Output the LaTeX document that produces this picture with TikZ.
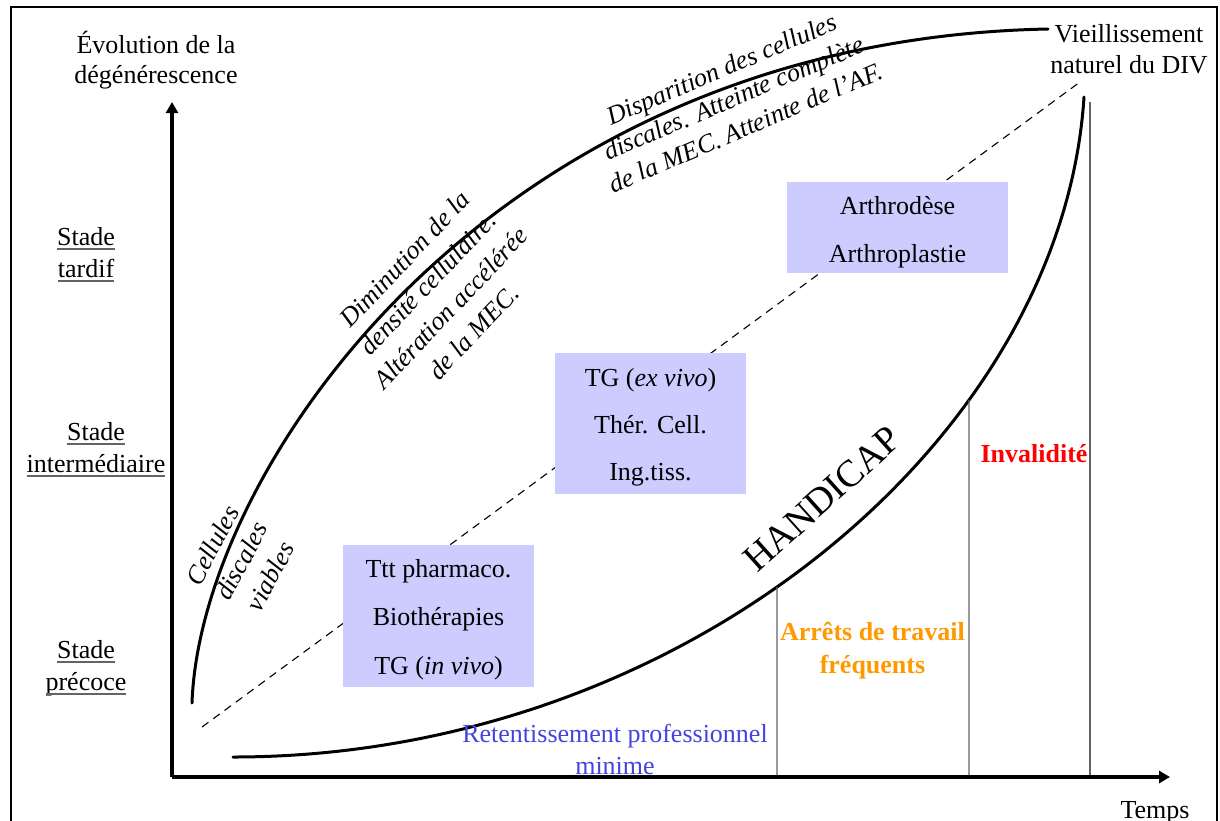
\documentclass[tikz,border=0pt]{standalone}
\usepackage{fontspec}
\setmainfont{Liberation Serif}
\usetikzlibrary{arrows.meta,intersections}
\definecolor{boxfill}{RGB}{204,204,255}
\definecolor{txtblue}{RGB}{68,68,221}
\definecolor{txtorange}{RGB}{255,153,0}
\definecolor{txtred}{RGB}{255,0,0}
\definecolor{thingray}{RGB}{100,100,100}
\begin{document}
\begin{tikzpicture}[x=1pt,y=-1pt,
  every node/.style={inner sep=0pt, outer sep=0pt, font=\fontsize{26}{32}\selectfont},
  lbl/.style={anchor=base},
  itl/.style={anchor=base, font=\fontsize{26}{32}\selectfont\itshape},
  tbox/.style={fill=boxfill, draw=none},
  frameline/.style={line width=2.5pt},
  axisline/.style={line width=3.5pt, -{Triangle[length=11pt,width=12pt]}},
  curveline/.style={line width=3pt, line cap=round},
  vline/.style={line width=1.3pt, draw=thingray},
  dashline/.style={line width=1.1pt, dash pattern=on 8pt off 6pt},
  ulline/.style={line width=1.1pt, draw=thingray}
]
\useasboundingbox (0,0) rectangle (1220,820);
% frame
\draw[frameline] (11,830) -- (11,7) -- (1217,7) -- (1217,830);

% dashed diagonal
\coordinate (d0) at (202,727);
\coordinate (d1) at (1080,82);
\draw[dashline] (d0) -- (d1);

% boxes
\node[tbox, minimum width=191pt, minimum height=142pt] (b1) at (438.5,616) {};
\node[tbox, minimum width=191pt, minimum height=141pt] (b2) at (650.5,423.5) {};
\node[tbox, minimum width=221pt, minimum height=91pt] (b3) at (897.5,227.5) {};

% curves
\coordinate (u0) at (192,703);
\coordinate (u1) at (1048,29);
\draw[curveline] (u0) .. controls (200,470) and (490,40) .. (u1);
\coordinate (l0) at (233,757);
\coordinate (l1) at (1084,97);
\draw[curveline, name path=lower] (l0) .. controls (683,757) and (1062,440) .. (l1);

% vertical thin lines
\coordinate (v1b) at (777,777);
\coordinate (v2b) at (969,777);
\coordinate (v3t) at (1090,102); \coordinate (v3b) at (1090,777);
\path[name path=vp1] (777,790) -- (777,300);
\path[name path=vp2] (969,790) -- (969,200);
\path[name intersections={of=lower and vp1, by={v1t}}];
\path[name intersections={of=lower and vp2, by={v2t}}];
\draw[vline] (v1b) -- (v1t);
\draw[vline] (v2b) -- (v2t);
\draw[vline] (v3b) -- (v3t);

% axes
\coordinate (O) at (172,777);
\coordinate (Ytop) at (172,102);
\coordinate (Xend) at (1170,777);
\draw[axisline] (O) -- (Ytop);
\draw[axisline] (O) -- (Xend);

% axis labels
\node[lbl] (evo1) at (156,53) {Évolution de la};
\node[lbl] (evo2) at (156,83) {dégénérescence};
\node[lbl] (tps) at (1155,818) {Temps};
\node[lbl] (vie1) at (1129,42) {Vieillissement};
\node[lbl] (vie2) at (1129,73) {naturel du DIV};

% stages
\node[lbl] (st1a) at (86,245) {Stade};
\node[lbl] (st1b) at (86,277) {tardif};
\node[lbl] (st2a) at (96,440) {Stade};
\node[lbl] (st2b) at (96,472) {intermédiaire};
\node[lbl] (st3a) at (86,658) {Stade};
\node[lbl] (st3b) at (86,690) {précoce};
\foreach \n in {st1a,st1b,st2a,st2b,st3a,st3b}{
  \draw[ulline] ([yshift=-4pt]\n.base west) -- ([yshift=-4pt]\n.base east);
}

% box texts
\node[lbl] (t11) at (438.5,577) {Ttt pharmaco.};
\node[lbl] (t12) at (438.5,625) {Biothérapies};
\node[lbl] (t13) at (438.5,674) {TG (\textit{in vivo})};
\node[lbl] (t21) at (650.5,386) {TG (\textit{ex vivo})};
\node[lbl] (t22) at (650.5,433) {Thér. Cell.};
\node[lbl] (t23) at (650.5,480) {Ing.tiss.};
\node[lbl] (t31) at (897.5,214) {Arthrodèse};
\node[lbl] (t32) at (897.5,262) {Arthroplastie};

% coloured labels
\node[lbl, text=txtred, font=\fontsize{26}{32}\selectfont\bfseries] (inv) at (1034,462) {Invalidité};
\node[lbl, text=txtorange, font=\fontsize{26}{32}\selectfont\bfseries] (arr1) at (872.5,640) {Arrêts de travail};
\node[lbl, text=txtorange, font=\fontsize{26}{32}\selectfont\bfseries] (arr2) at (872.5,673) {fréquents};
\node[lbl, text=txtblue] (ret1) at (615,742) {Retentissement professionnel};
\node[lbl, text=txtblue] (ret2) at (615,774) {minime};

% rotated italic texts
\node[itl, rotate=62] (c1) at (220,549.5) {Cellules};
\node[itl, rotate=62] (c2) at (249,565) {discales};
\node[itl, rotate=62] (c3) at (278,580.5) {viables};

\node[itl, rotate=46.5] (m1) at (411,265) {Diminution de la};
\node[itl, rotate=46.5] (m2) at (434,289.3) {densité cellulaire.};
\node[itl, rotate=46.5] (m3) at (457,313.7) {Altération accélérée};
\node[itl, rotate=46.5] (m4) at (480,338) {de la MEC.};

\node[itl, rotate=23] (p1) at (725,77) {Disparition des cellules};
\node[itl, rotate=23] (p2) at (737,106) {discales. Atteinte complète};
\node[itl, rotate=23] (p3) at (749,135.5) {de la MEC. Atteinte de l’AF.};

\node[rotate=42, font=\fontsize{38}{38}\selectfont] (hand) at (822,499) {HANDICAP};
\end{tikzpicture}
\end{document}
